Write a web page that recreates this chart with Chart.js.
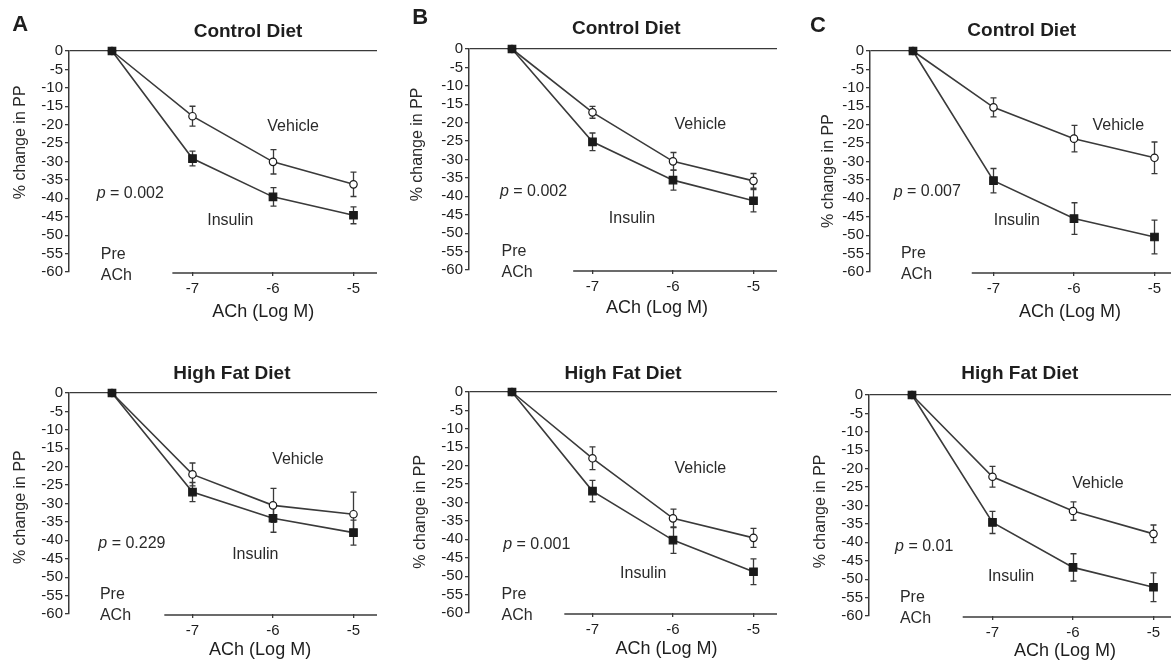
<!DOCTYPE html>
<html>
<head>
<meta charset="utf-8">
<script src="https://cdn.jsdelivr.net/npm/chart.js@4.4.0/dist/chart.umd.min.js"></script>
<style>
  html, body { margin: 0; padding: 0; background: #fff; overflow: hidden; }
  #figure { position: relative; width: 1171px; height: 661px; overflow: hidden; }
  #figure canvas { position: absolute; }
</style>
</head>
<body>
<div id="figure"></div>
<script>
'use strict';

// x values: -8 stands for the "Pre ACh" baseline point
let doses = [-8, -7, -6, -5];
let doseTicks = [-7, -6, -5];
let yMin = -60;
let yMax = 0;
let yStep = 5;

// panels in reading order: A, B, C control diet, then A, B, C high fat diet
let panelLetters = ['A', 'B', 'C', '', '', ''];
let panelTitles = ['Control Diet', 'Control Diet', 'Control Diet', 'High Fat Diet', 'High Fat Diet', 'High Fat Diet'];
let pValues = ['0.002', '0.002', '0.007', '0.229', '0.001', '0.01'];

let vehicleMean = [
  [0, -17.7, -30.1, -36.2],
  [0, -17.2, -30.5, -35.8],
  [0, -15.3, -23.8, -29.0],
  [0, -22.1, -30.5, -32.9],
  [0, -18.0, -34.3, -39.6],
  [0, -22.2, -31.5, -37.7]
];
let vehicleErr = [
  [0, 2.7, 3.3, 3.3],
  [0, 1.6, 2.4, 2.0],
  [0, 2.6, 3.6, 4.3],
  [0, 3.1, 4.6, 6.0],
  [0, 3.1, 2.5, 2.6],
  [0, 2.8, 2.5, 2.4]
];
let insulinMean = [
  [0, -29.2, -39.6, -44.6],
  [0, -25.2, -35.6, -41.2],
  [0, -35.2, -45.5, -50.5],
  [0, -26.9, -34.0, -37.9],
  [0, -26.9, -40.2, -48.8],
  [0, -34.6, -46.8, -52.2]
];
let insulinErr = [
  [0, 2.0, 2.5, 2.3],
  [0, 2.4, 2.7, 3.0],
  [0, 3.3, 4.3, 4.6],
  [0, 2.6, 3.8, 3.4],
  [0, 2.9, 3.6, 3.5],
  [0, 3.0, 3.7, 3.9]
];

// layout: canvas corner per panel, label anchors in data units
let canvasW = 391;
let canvasH = 335;
let panelCorner = [[-6, 1], [394, -1], [795, 1], [-6, 343], [394, 342], [794, 345]];
let letterAt = [[-9.14, 7], [-9.14, 8.4], [-9.18, 6.8]];
let titleAt = [[-6.31, 5.1], [-6.58, 5.6], [-6.65, 5.5], [-6.51, 5.3], [-6.62, 5.0], [-6.66, 5.9]];
let yTitleAt = [[-9.14, -24.8], [-9.17, -25.9], [-9.05, -32.6], [-9.14, -31], [-9.14, -32.5], [-9.14, -31.6]];
let xTitleAt = [[-6.12, -70.9], [-6.2, -70.3], [-6.05, -70.9], [-6.16, -69.7], [-6.08, -69.7], [-6.1, -69.6]];
let vehicleAt = [[-5.75, -20.4], [-5.66, -20.5], [-5.45, -20.3], [-5.69, -18.1], [-5.66, -20.7], [-5.69, -24.0]];
let insulinAt = [[-6.53, -46], [-6.51, -46.1], [-6.71, -46], [-6.22, -44], [-6.37, -49.2], [-6.77, -49.3]];
let pAt = [[-8.19, -38.6], [-8.15, -38.7], [-8.24, -38.3], [-8.17, -41], [-8.11, -41.4], [-8.21, -41.1]];
let preAt = [[-8.14, -55.2], [-8.13, -55], [-8.15, -55], [-8.15, -54.8], [-8.13, -54.9], [-8.15, -55]];
let axisStart = [-7.25, -7.24, -7.27, -7.35, -7.35, -7.37];

let fontFamily = '"Liberation Sans", Arial, Helvetica, sans-serif';
let inkColor = '#1e1e1e';
let lineColor = '#3a3a3a';

Chart.defaults.font.family = fontFamily;
Chart.defaults.color = inkColor;

function writeText(ctx, str, px, py, font, align) {
  ctx.font = font;
  ctx.textAlign = align || 'center';
  ctx.textBaseline = 'middle';
  ctx.fillText(str, px, py);
}

let figurePlugin = {
  id: 'figureText',
  beforeDatasetsDraw(chart, args, opts) {
    let i = opts.panel;
    let ctx = chart.ctx;
    let xs = chart.scales.x;
    let ys = chart.scales.y;
    let sets = [[insulinMean[i], insulinErr[i]], [vehicleMean[i], vehicleErr[i]]];

    ctx.save();
    ctx.strokeStyle = lineColor;
    ctx.lineWidth = 1.3;
    sets.forEach(s => {
      s[0].forEach((m, j) => {
        let e = s[1][j];
        if (!e) return;
        let px = Math.round(xs.getPixelForValue(doses[j])) + 0.5;
        let top = ys.getPixelForValue(m + e);
        let bot = ys.getPixelForValue(m - e);
        ctx.beginPath();
        ctx.moveTo(px, top);
        ctx.lineTo(px, bot);
        ctx.moveTo(px - 3, top);
        ctx.lineTo(px + 3, top);
        ctx.moveTo(px - 3, bot);
        ctx.lineTo(px + 3, bot);
        ctx.stroke();
      });
    });
    ctx.restore();
  },
  afterDraw(chart, args, opts) {
    let i = opts.panel;
    let ctx = chart.ctx;
    let xs = chart.scales.x;
    let ys = chart.scales.y;
    let X = v => xs.getPixelForValue(v);
    let Y = v => ys.getPixelForValue(v);

    ctx.save();

    // x axis only runs under the doses
    ctx.strokeStyle = lineColor;
    ctx.lineWidth = 1.5;
    ctx.beginPath();
    ctx.moveTo(X(axisStart[i]), chart.chartArea.bottom + 1);
    ctx.lineTo(chart.chartArea.right, chart.chartArea.bottom + 1);
    ctx.stroke();

    ctx.fillStyle = inkColor;
    if (panelLetters[i]) {
      writeText(ctx, panelLetters[i], X(letterAt[i][0]), Y(letterAt[i][1]), 'bold 22px ' + fontFamily);
    }
    writeText(ctx, panelTitles[i], X(titleAt[i][0]), Y(titleAt[i][1]), 'bold 19px ' + fontFamily);
    writeText(ctx, 'ACh (Log M)', X(xTitleAt[i][0]), Y(xTitleAt[i][1]), '18px ' + fontFamily);

    ctx.fillStyle = '#2a2a2a';
    writeText(ctx, 'Vehicle', X(vehicleAt[i][0]), Y(vehicleAt[i][1]), '16px ' + fontFamily);
    writeText(ctx, 'Insulin', X(insulinAt[i][0]), Y(insulinAt[i][1]), '16px ' + fontFamily);
    writeText(ctx, 'Pre', X(preAt[i][0]), Y(preAt[i][1]), '16px ' + fontFamily, 'left');
    writeText(ctx, 'ACh', X(preAt[i][0]), Y(preAt[i][1]) + 21, '16px ' + fontFamily, 'left');

    // p value with italic p
    let px = X(pAt[i][0]);
    let py = Y(pAt[i][1]);
    writeText(ctx, 'p', px, py, 'italic 16px ' + fontFamily, 'left');
    let w = ctx.measureText('p').width;
    writeText(ctx, ' = ' + pValues[i], px + w, py, '16px ' + fontFamily, 'left');

    // rotated y title
    ctx.translate(X(yTitleAt[i][0]), Y(yTitleAt[i][1]));
    ctx.rotate(-Math.PI / 2);
    writeText(ctx, '% change in PP', 0, 0, '16px ' + fontFamily);

    ctx.restore();
  }
};

function makeSeries(label, means, style, radius, fill) {
  return {
    label: label,
    data: means.map((m, j) => ({ x: doses[j], y: m })),
    showLine: true,
    borderColor: lineColor,
    borderWidth: 1.6,
    pointStyle: style,
    pointRadius: radius,
    pointBorderColor: '#1a1a1a',
    pointBorderWidth: 1.2,
    pointBackgroundColor: fill,
    clip: false
  };
}

let figureEl = document.getElementById('figure');

for (let i = 0; i < 6; i++) {
  let canvas = document.createElement('canvas');
  canvas.width = canvasW;
  canvas.height = canvasH;
  canvas.style.left = panelCorner[i][0] + 'px';
  canvas.style.top = panelCorner[i][1] + 'px';
  figureEl.appendChild(canvas);

  new Chart(canvas, {
    type: 'scatter',
    data: {
      datasets: [
        makeSeries('Insulin', insulinMean[i], 'rect', 5.3, '#1a1a1a'),
        makeSeries('Vehicle', vehicleMean[i], 'circle', 3.7, '#ffffff')
      ]
    },
    options: {
      responsive: false,
      animation: false,
      events: [],
      layout: { padding: { top: 50, right: 8, left: 0, bottom: 0 } },
      plugins: {
        legend: { display: false },
        tooltip: { enabled: false },
        figureText: { panel: i }
      },
      scales: {
        x: {
          type: 'linear',
          min: -8.534,
          max: -4.708,
          afterBuildTicks: s => { s.ticks = doseTicks.map(v => ({ value: v })); },
          afterFit: s => { s.height = canvasH - 50 - 221; },
          border: { display: false },
          grid: { drawOnChartArea: false, tickLength: 4, tickColor: lineColor, lineWidth: 1.3 },
          ticks: { color: inkColor, font: { size: 15 }, padding: 4, callback: v => String(v) }
        },
        y: {
          min: yMin,
          max: yMax,
          afterFit: s => { s.width = 75; },
          border: { color: lineColor, width: 1.5 },
          grid: {
            color: c => (c.tick && c.tick.value === 0 ? lineColor : 'transparent'),
            tickColor: lineColor,
            tickLength: 4,
            lineWidth: 1.3
          },
          ticks: { stepSize: yStep, autoSkip: false, color: inkColor, font: { size: 15 }, padding: 2 }
        }
      }
    },
    plugins: [figurePlugin]
  });
}
</script>
</body>
</html>
